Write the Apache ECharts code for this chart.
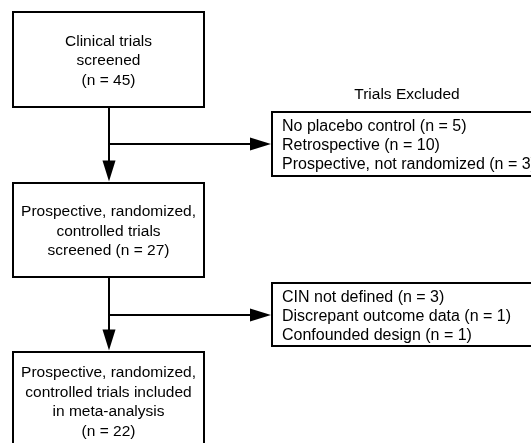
<!DOCTYPE html>
<html style="height: 100%">
<head>
<meta charset="UTF-8">
<title>Trial selection flow</title>
<script src="https://cdn.jsdelivr.net/npm/echarts@6/dist/echarts.min.js"></script>
</head>
<body style="height: 100%; margin: 0; background: #fff">
<div id="container" style="width: 531px; height: 443px"></div>
<script type="text/javascript">
// stage boxes (left column) - '{n}' is replaced by the count
var stageLabels = [
    'Clinical trials\nscreened\n(n = {n})',
    'Prospective, randomized,\ncontrolled trials\nscreened (n = {n})',
    'Prospective, randomized,\ncontrolled trials included\nin meta-analysis\n(n = {n})'
];
var stageCounts = [45, 27, 22];

// exclusion boxes (right column)
var excludedTitle = 'Trials Excluded';
var excludedReasons1 = ['No placebo control', 'Retrospective', 'Prospective, not randomized'];
var excludedCounts1 = [5, 10, 3];
var excludedReasons2 = ['CIN not defined', 'Discrepant outcome data', 'Confounded design'];
var excludedCounts2 = [3, 1, 1];

// layout (pixel-like units on a hidden 531 x 443 axis pair)
var stageBoxes = [[13, 12, 204, 107], [13, 183, 204, 277], [13, 352, 204, 449]];
var excludedBoxes = [[272, 112, 548, 176], [272, 283, 548, 346]];
var trunkX = 109;
var branchY = [144, 315];
var arrowLen = 21, arrowHalf = 6.5;
var FONT = '"Liberation Sans", Arial, Helvetica, sans-serif';

var dom = document.getElementById('container');
var myChart = echarts.init(dom, null, {renderer: 'canvas'});

function rectShape(api, b) {
    var p0 = api.coord([b[0], b[1]]);
    var p1 = api.coord([b[2], b[3]]);
    return {x: p0[0], y: p0[1], width: p1[0] - p0[0], height: p1[1] - p0[1]};
}

function arrowHead(api, tip, dir) {
    var pts;
    if (dir === 'down') {
        pts = [[tip[0] - arrowHalf, tip[1] - arrowLen], [tip[0] + arrowHalf, tip[1] - arrowLen], tip];
    } else {
        pts = [[tip[0] - arrowLen, tip[1] - arrowHalf], [tip[0] - arrowLen, tip[1] + arrowHalf], tip];
    }
    return {
        type: 'polygon',
        shape: {points: pts.map(function (p) { return api.coord(p); })},
        style: {fill: '#000', stroke: null}
    };
}

function renderStage(params, api) {
    var i = params.dataIndex;
    var s = rectShape(api, stageBoxes[i]);
    var txt = stageLabels[i].replace('{n}', api.value(1));
    return {
        type: 'group',
        children: [{
            type: 'rect',
            shape: s,
            style: {fill: '#fff', stroke: '#000', lineWidth: 2}
        }, {
            type: 'text',
            style: {
                text: txt, x: s.x + s.width / 2, y: s.y + s.height / 2 + 1.5,
                align: 'center', verticalAlign: 'middle',
                fontFamily: FONT, fontSize: 15.5, lineHeight: 19.5, fill: '#000'
            }
        }]
    };
}

function renderExcluded(params, api) {
    var i = params.dataIndex;
    var s = rectShape(api, excludedBoxes[i]);
    var reasons = i === 0 ? excludedReasons1 : excludedReasons2;
    var counts = i === 0 ? excludedCounts1 : excludedCounts2;
    var txt = reasons.map(function (r, k) { return r + ' (n = ' + counts[k] + ')'; }).join('\n');
    var children = [{
        type: 'rect',
        shape: s,
        style: {fill: '#fff', stroke: '#000', lineWidth: 2}
    }, {
        type: 'text',
        style: {
            text: txt, x: s.x + 10, y: s.y + s.height / 2 + 2,
            align: 'left', verticalAlign: 'middle',
            fontFamily: FONT, fontSize: 16, lineHeight: 19, fill: '#000'
        }
    }];
    if (i === 0) {
        var tp = api.coord([407, 95]);
        children.push({
            type: 'text',
            style: {
                text: excludedTitle, x: tp[0], y: tp[1],
                align: 'center', verticalAlign: 'middle',
                fontFamily: FONT, fontSize: 15.5, fill: '#000'
            }
        });
    }
    return {type: 'group', children: children};
}

// connectors: one per step between stages
function renderFlow(params, api) {
    var i = params.dataIndex;
    var top = stageBoxes[i][3];
    var next = stageBoxes[i + 1][1] - 1.5;
    var by = branchY[i];
    var bx = excludedBoxes[i][0] - 1;
    var a = api.coord([trunkX, top]);
    var b = api.coord([trunkX, next - arrowLen + 2]);
    var c = api.coord([trunkX, by]);
    var d = api.coord([bx - arrowLen + 2, by]);
    return {
        type: 'group',
        children: [{
            type: 'line',
            shape: {x1: a[0], y1: a[1], x2: b[0], y2: b[1]},
            style: {stroke: '#000', lineWidth: 2}
        }, {
            type: 'line',
            shape: {x1: c[0] - 1, y1: c[1], x2: d[0], y2: d[1]},
            style: {stroke: '#000', lineWidth: 2}
        },
        arrowHead(api, [trunkX, next], 'down'),
        arrowHead(api, [bx, by], 'right')]
    };
}

var option = {
    animation: false,
    grid: {left: 0, right: 0, top: 0, bottom: 0},
    xAxis: {type: 'value', min: 0, max: 531, show: false},
    yAxis: {type: 'value', min: 0, max: 443, inverse: true, show: false},
    series: [{
        type: 'custom',
        name: 'flow',
        renderItem: renderFlow,
        data: [[0, 0], [1, 0]],
        clip: false,
        silent: true
    }, {
        type: 'custom',
        name: 'stages',
        renderItem: renderStage,
        data: stageCounts.map(function (n, i) { return [i, n]; }),
        clip: false,
        silent: true
    }, {
        type: 'custom',
        name: 'excluded',
        renderItem: renderExcluded,
        data: [[0, 0], [1, 0]],
        clip: false,
        silent: true
    }]
};

myChart.setOption(option);
</script>
</body>
</html>
